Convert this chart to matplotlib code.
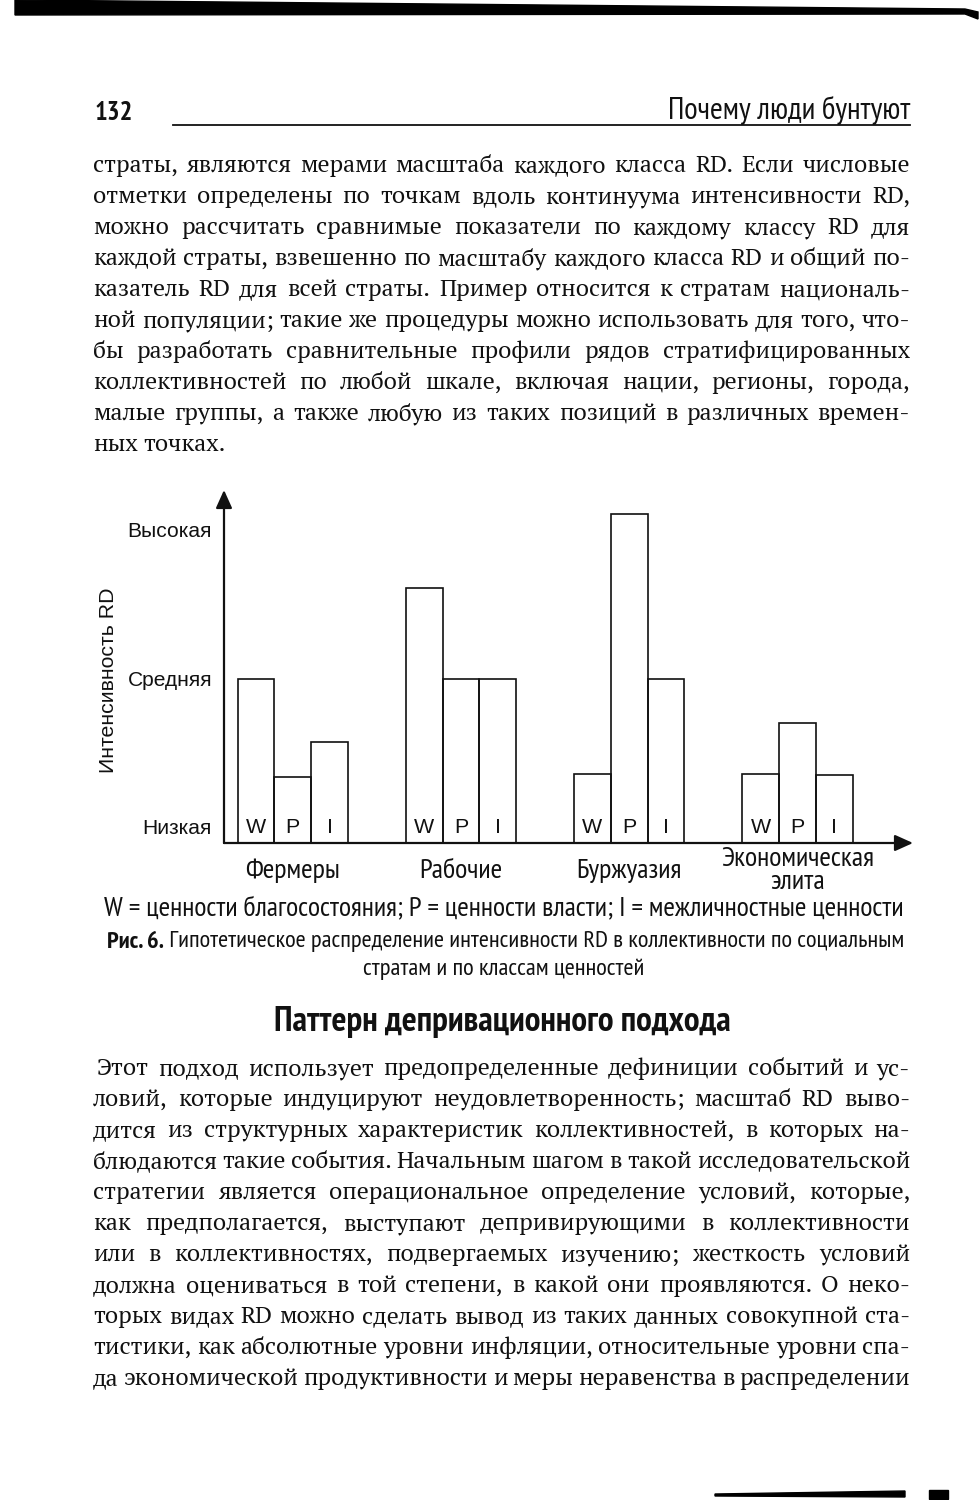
import matplotlib
matplotlib.use('Agg')
import matplotlib.pyplot as plt
from matplotlib.font_manager import FontProperties
from matplotlib.patches import Polygon, Rectangle

# ---- данные графика ----
strata = ['Фермеры', 'Рабочие', 'Буржуазия', 'Экономическая\nэлита']
value_classes = ['W', 'P', 'I']
wealth = [1.0, 1.55, 0.42, 0.42]        # W
power = [0.40, 1.0, 2.0, 0.73]          # P
interpersonal = [0.615, 1.0, 1.0, 0.415]  # I
level_pos = [0.10, 1.0, 1.91]
level_labels = ['Низкая', 'Средняя', 'Высокая']

# ---- тексты страницы ----
page_no = '132'
running_head = 'Почему люди бунтуют'
para1 = [
    'страты, являются мерами масштаба каждого класса RD. Если числовые',
    'отметки определены по точкам вдоль континуума интенсивности RD,',
    'можно рассчитать сравнимые показатели по каждому классу RD для',
    'каждой страты, взвешенно по масштабу каждого класса RD и общий по-',
    'казатель RD для всей страты. Пример относится к стратам националь-',
    'ной популяции; такие же процедуры можно использовать для того, что-',
    'бы разработать сравнительные профили рядов стратифицированных',
    'коллективностей по любой шкале, включая нации, регионы, города,',
    'малые группы, а также любую из таких позиций в различных времен-',
    'ных точках.',
]
para2 = [
    'Этот подход использует предопределенные дефиниции событий и ус-',
    'ловий, которые индуцируют неудовлетворенность; масштаб RD выво-',
    'дится из структурных характеристик коллективностей, в которых на-',
    'блюдаются такие события. Начальным шагом в такой исследовательской',
    'стратегии является операциональное определение условий, которые,',
    'как предполагается, выступают депривирующими в коллективности',
    'или в коллективностях, подвергаемых изучению; жесткость условий',
    'должна оцениваться в той степени, в какой они проявляются. О неко-',
    'торых видах RD можно сделать вывод из таких данных совокупной ста-',
    'тистики, как абсолютные уровни инфляции, относительные уровни спа-',
    'да экономической продуктивности и меры неравенства в распределении',
]
legend_txt = 'W = ценности благосостояния; P = ценности власти; I = межличностные ценности'
fig_bold = 'Рис. 6.'
fig_cap1 = ' Гипотетическое распределение интенсивности RD в коллективности по социальным'
fig_cap2 = 'стратам и по классам ценностей'
heading = 'Паттерн депривационного подхода'

W_PX, H_PX = 980, 1500
INK = '#111111'
SERIF = ['PT Serif', 'Liberation Serif', 'DejaVu Serif']
SANS = ['Liberation Sans', 'DejaVu Sans']
NARROW = ['PT Sans Narrow', 'Roboto Condensed', 'Liberation Sans', 'DejaVu Sans']

fig = plt.figure(figsize=(9.8, 15), dpi=100)
fig.patch.set_facecolor('white')
renderer = fig.canvas.get_renderer()


def fx(x):
    return x / W_PX


def fy(y):
    return 1 - y / H_PX


def text_w(s, family, size, weight='normal'):
    fp = FontProperties(family=family, size=size, weight=weight)
    w, h, d = renderer.get_text_width_height_descent(s, fp, ismath=False)
    return w


def fit(s, width, family, weight='normal'):
    # размер шрифта, при котором строка имеет нужную ширину
    return 20 * width / text_w(s, family, 20, weight)


# ---- колонтитул ----
fig.text(fx(95), fy(113), page_no, family=NARROW, weight='bold',
         size=fit(page_no, 38, NARROW, 'bold'), ha='left', va='center', color=INK)
fig.text(fx(910), fy(110), running_head, family=NARROW,
         size=fit(running_head, 242, NARROW), ha='right', va='center', color=INK)
fig.add_artist(plt.Line2D([fx(173), fx(910)], [fy(124.5), fy(124.5)], lw=1.3, color=INK))

# тёмная полоса сверху и обрезки снизу (скан)
top_band = [(15, 0), (965, 9), (978, 12), (978, 19), (965, 14), (15, 15)]
fig.add_artist(Polygon([(fx(x), fy(y)) for x, y in top_band], closed=True,
                       color='black', transform=fig.transFigure))
bot_band = [(715, 1494), (905, 1491), (905, 1497), (715, 1496)]
fig.add_artist(Polygon([(fx(x), fy(y)) for x, y in bot_band], closed=True,
                       color='black', transform=fig.transFigure))
fig.add_artist(Rectangle((fx(929), fy(1499)), 19 / W_PX, 9 / H_PX, color='black',
                         transform=fig.transFigure))


# ---- основной текст с выравниванием по ширине ----
def body_size(lines, width, base=16):
    best = 30
    for ln in lines:
        words = ln.split(' ')
        tot = sum(text_w(w, SERIF, base) for w in words) + (len(words) - 1) * 0.17 * base * 100 / 72
        best = min(best, base * width / tot)
    return best


def paragraph(lines, x0, x1, base_y, step, size, ragged_last=True, first_x0=None):
    for i, ln in enumerate(lines):
        words = ln.split(' ')
        left = first_x0 if (i == 0 and first_x0 is not None) else x0
        ws = [text_w(w, SERIF, size) for w in words]
        if (ragged_last and i == len(lines) - 1) or len(words) == 1:
            gap = text_w('a b', SERIF, size) - text_w('ab', SERIF, size)
        else:
            gap = (x1 - left - sum(ws)) / (len(words) - 1)
        x = left
        y = base_y + i * step
        for w, wd in zip(words, ws):
            fig.text(fx(x), fy(y), w, family=SERIF, size=size, ha='left',
                     va='baseline', color=INK)
            x += wd + gap


bsize = min(body_size(para1[:-1], 817), body_size(para2, 813))
paragraph(para1, 93, 910, 172, 31, bsize)
paragraph(para2, 93, 910, 1075, 31, bsize, ragged_last=False, first_x0=97)

# ---- график ----
ax_l, ax_r, ax_t, ax_b = 224, 913, 490, 843
ax = fig.add_axes([fx(ax_l), fy(ax_b), (ax_r - ax_l) / W_PX, (ax_b - ax_t) / H_PX])
ax.set_xlim(-0.409, 3.687)
ax.set_ylim(0, 2.149)
for sp in ax.spines.values():
    sp.set_visible(False)
ax.patch.set_alpha(0)

bw = 0.219
centers = list(range(len(strata)))
series = [wealth, power, interpersonal]
tick_size = fit('Высокая', 84, SANS)
for k, vals in enumerate(series):
    xs = [c + (k - 1) * bw for c in centers]
    ax.bar(xs, vals, width=bw, fill=False, edgecolor=INK, lw=1.2, zorder=2)
    for x in xs:
        ax.text(x, level_pos[0] * 0.97, value_classes[k], ha='center', va='center',
                family=SANS, size=tick_size * 1.02, color=INK)

arrow = dict(arrowstyle='-|>,head_length=1.0,head_width=0.45', mutation_scale=11,
             lw=1.6, color=INK, shrinkA=0, shrinkB=0)
ax.annotate('', xy=(1, 0), xytext=(0, 0), xycoords='axes fraction', arrowprops=arrow)
ax.annotate('', xy=(0, 1), xytext=(0, 0), xycoords='axes fraction', arrowprops=arrow)

ax.set_yticks(level_pos, level_labels, family=SANS, size=tick_size, color=INK)
ax.tick_params(axis='y', length=0, pad=8.6)
ax.set_xticks(centers, strata, family=NARROW, size=fit('Буржуазия', 105, NARROW),
              color=INK, linespacing=0.95)
ax.tick_params(axis='x', length=0, pad=20)
for lab in ax.get_xticklabels():
    lab.set_va('center')

fig.text(fx(108), fy(680), 'Интенсивность RD', rotation=90, ha='center', va='center',
         family=SANS, size=fit('Интенсивность RD', 185, SANS), color=INK)

# ---- подписи к рисунку ----
fig.text(fx(504), fy(908), legend_txt, family=NARROW, size=fit(legend_txt, 802, NARROW),
         ha='center', va='center', color=INK)
wb = text_w(fig_bold, NARROW, 20, 'bold')
wr = text_w(fig_cap1, NARROW, 20)
csize = 20 * 793 / (wb + wr)
fig.text(fx(107), fy(942), fig_bold, family=NARROW, weight='bold', size=csize,
         ha='left', va='center', color=INK)
fig.text(fx(107 + wb * csize / 20), fy(942), fig_cap1, family=NARROW, size=csize,
         ha='left', va='center', color=INK)
fig.text(fx(504), fy(969), fig_cap2, family=NARROW, size=csize,
         ha='center', va='center', color=INK)
fig.text(fx(502), fy(1022), heading, family=NARROW, weight='bold',
         size=fit(heading, 460, NARROW, 'bold'), ha='center', va='center', color=INK)

fig.savefig('out.png', dpi=100, facecolor='white')
